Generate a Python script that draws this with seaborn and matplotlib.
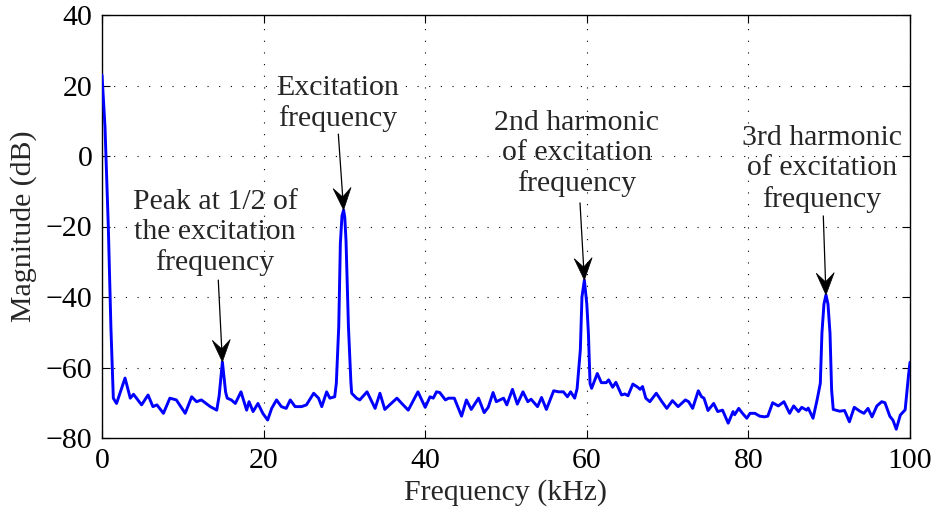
import numpy as np
import pandas as pd
import matplotlib
matplotlib.use("Agg")
import matplotlib.pyplot as plt
from matplotlib.patches import Polygon
import seaborn as sns

# Spectrum of the measured signal (frequency in kHz, magnitude in dB)
freq_khz = [
    0.0, 0.37, 0.78, 1.1, 1.4, 1.8, 2.85, 3.5, 3.9, 4.9, 5.7, 6.3, 6.8, 7.6, 8.4,
    9.2, 10.3, 11.1, 11.7, 12.3, 13.4, 14.2, 14.5, 14.9, 15.3, 15.5, 16.0, 16.5,
    17.2, 17.9, 18.2, 18.7, 19.3, 19.9, 20.5, 21.0, 21.6, 22.2, 22.8, 23.3, 23.9,
    24.7, 25.3, 26.2, 26.8, 27.2, 27.8, 28.2, 28.8, 29.0, 29.3, 29.5, 29.7, 29.9,
    30.05, 30.2, 30.5, 30.8, 30.9, 31.5, 31.9, 32.8, 33.8, 34.4, 35.0, 35.6, 36.5,
    37.1, 37.9, 39.1, 40.0, 40.6, 41.0, 41.4, 41.8, 42.5, 42.9, 43.6, 44.5, 45.1,
    45.7, 46.6, 47.3, 47.8, 48.4, 48.8, 49.7, 50.1, 50.8, 51.4, 52.1, 52.7, 53.1,
    53.9, 54.4, 55.0, 55.9, 56.5, 57.1, 57.6, 58.0, 58.5, 58.8, 59.2, 59.4, 59.7,
    60.0, 60.2, 60.4, 60.6, 61.3, 61.8, 62.4, 62.7, 63.2, 63.6, 64.3, 64.7, 65.1,
    65.7, 66.3, 66.6, 66.9, 67.3, 67.8, 68.6, 69.3, 69.9, 70.6, 71.3, 72.2, 72.6,
    73.1, 73.8, 74.2, 74.5, 75.0, 75.7, 76.2, 76.8, 77.5, 78.1, 78.3, 78.8, 79.2,
    79.8, 80.2, 80.8, 81.4, 82.0, 82.4, 83.0, 83.7, 84.4, 85.1, 85.6, 86.2, 86.6,
    87.2, 87.4, 88.0, 88.5, 88.9, 89.1, 89.35, 89.6, 89.85, 90.1, 90.3, 90.5, 91.3,
    91.9, 92.5, 93.1, 93.8, 94.3, 94.8, 95.3, 95.9, 96.5, 96.9, 97.5, 97.9, 98.3,
    98.8, 99.4, 99.8, 100.0,
]
magnitude_db = [
    23.0, 8.3, -20.0, -48.4, -68.7, -70.2, -63.0, -68.7, -67.6, -70.6, -67.8, -71.1,
    -70.6, -73.0, -68.7, -69.2, -73.0, -68.3, -69.7, -69.2, -71.1, -72.1, -68.0,
    -58.4, -67.0, -68.7, -69.2, -70.2, -66.9, -72.1, -69.7, -72.5, -70.2, -73.0,
    -74.9, -71.6, -69.2, -71.1, -71.6, -69.2, -71.1, -71.1, -70.6, -67.3, -68.7,
    -71.1, -66.9, -68.7, -68.3, -64.5, -48.4, -24.8, -17.0, -15.3, -17.5, -24.0,
    -48.4, -64.0, -67.3, -68.7, -69.2, -66.9, -71.6, -67.3, -71.9, -70.6, -68.7,
    -70.2, -72.1, -66.9, -71.3, -68.3, -68.7, -66.9, -67.1, -69.2, -68.7, -68.7,
    -73.8, -69.2, -71.9, -68.7, -72.8, -71.3, -67.1, -69.7, -68.7, -70.6, -66.2,
    -70.4, -66.9, -69.7, -69.0, -71.1, -68.5, -71.9, -66.6, -66.9, -66.9, -68.3,
    -66.9, -68.7, -66.0, -55.0, -40.0, -35.2, -42.0, -50.3, -64.5, -65.9, -61.7,
    -64.3, -64.3, -63.5, -65.6, -64.2, -67.8, -67.5, -68.0, -64.7, -65.6, -66.2,
    -65.4, -68.7, -69.7, -67.3, -69.7, -71.6, -69.4, -71.1, -69.2, -69.7, -71.6,
    -66.6, -68.3, -68.7, -72.2, -70.2, -72.5, -72.1, -75.8, -72.5, -73.4, -71.6,
    -72.8, -74.4, -73.0, -73.0, -73.8, -74.0, -73.8, -70.0, -70.9, -69.7, -73.0,
    -70.9, -72.5, -71.3, -72.1, -71.5, -74.4, -69.2, -64.5, -50.3, -42.0, -39.4,
    -42.0, -50.3, -66.4, -71.9, -72.4, -72.2, -75.4, -71.3, -72.4, -73.0, -71.6,
    -74.0, -70.9, -69.7, -70.0, -73.8, -75.0, -77.5, -73.5, -72.0, -62.6, -58.5,
]

# Annotated peaks: label text, label centre, arrow tail, arrow tip (the peak)
labels = [
    "Peak at 1/2 of\nthe excitation\nfrequency",
    "Excitation\nfrequency",
    "2nd harmonic\nof excitation\nfrequency",
    "3rd harmonic\nof excitation\nfrequency",
]
label_xy = [(14.0, -21.6), (29.15, 15.0), (58.75, 0.6), (89.1, -3.7)]
arrow_tail = [(14.39, -35.2), (29.25, 6.2), (59.16, -13.3), (89.27, -17.0)]
peak_xy = [(14.9, -58.4), (29.9, -15.3), (59.7, -35.2), (89.6, -39.4)]

x_ticks = [0, 20, 40, 60, 80, 100]
y_ticks = [-80, -60, -40, -20, 0, 20, 40]

sns.set_style("ticks")
plt.rcParams["font.family"] = ["Liberation Serif", "DejaVu Serif"]
FS = 21.5

fig = plt.figure(figsize=(9.35, 5.14), dpi=100)
ax = fig.add_axes([102 / 935, 1 - 438 / 514, (910 - 102) / 935, (438 - 15) / 514])

df = pd.DataFrame({"Frequency (kHz)": freq_khz, "Magnitude (dB)": magnitude_db})
sns.lineplot(data=df, x="Frequency (kHz)", y="Magnitude (dB)", ax=ax,
             color="#0000ff", linewidth=2.1, sort=False, estimator=None,
             solid_joinstyle="round", zorder=3)

ax.set_xlim(0, 100)
ax.set_ylim(-80, 40)
ax.set_xticks(x_ticks)
ax.set_yticks(y_ticks)
ax.set_xticklabels([str(v) for v in x_ticks])
ax.set_yticklabels([str(v).replace("-", "\u2212") for v in y_ticks])
ax.grid(True, color="black", linestyle=(0, (1, 9.5)), linewidth=0.8)
ax.tick_params(direction="in", length=6, width=0.8, top=True, right=True,
               labelsize=FS, colors="black")
ax.tick_params(axis="y", pad=7)
ax.tick_params(axis="x", pad=7)
for s in ax.spines.values():
    s.set_visible(True)
    s.set_color("black")
    s.set_linewidth(1.0)

ax.set_xlabel("Frequency (kHz)", fontsize=FS, labelpad=4)
ax.set_ylabel("Magnitude (dB)", fontsize=FS, labelpad=6)

for txt, (tx, ty) in zip(labels, label_xy):
    ax.text(tx, ty, txt, ha="center", va="center", fontsize=FS,
            linespacing=1.2, zorder=4)


def barbed_arrow(ax, tail, tip, length=22, half_width=9, notch=13):
    """Thin shaft with a filled, swept-back arrowhead (sizes in pixels)."""
    p_tail = ax.transData.transform(tail)
    p_tip = ax.transData.transform(tip)
    d = p_tip - p_tail
    u = d / np.hypot(*d)
    n = np.array([-u[1], u[0]])
    head = np.array([
        p_tip,
        p_tip - length * u + half_width * n,
        p_tip - notch * u,
        p_tip - length * u - half_width * n,
    ])
    inv = ax.transData.inverted()
    ax.add_patch(Polygon(inv.transform(head), closed=True, facecolor="black",
                         edgecolor="black", linewidth=0.5, zorder=5))
    shaft_end = inv.transform(p_tip - notch * u)
    ax.plot([tail[0], shaft_end[0]], [tail[1], shaft_end[1]], color="black",
            linewidth=0.9, zorder=5)


for tail, tip in zip(arrow_tail, peak_xy):
    barbed_arrow(ax, tail, tip)

fig.savefig("out.png", dpi=100)
